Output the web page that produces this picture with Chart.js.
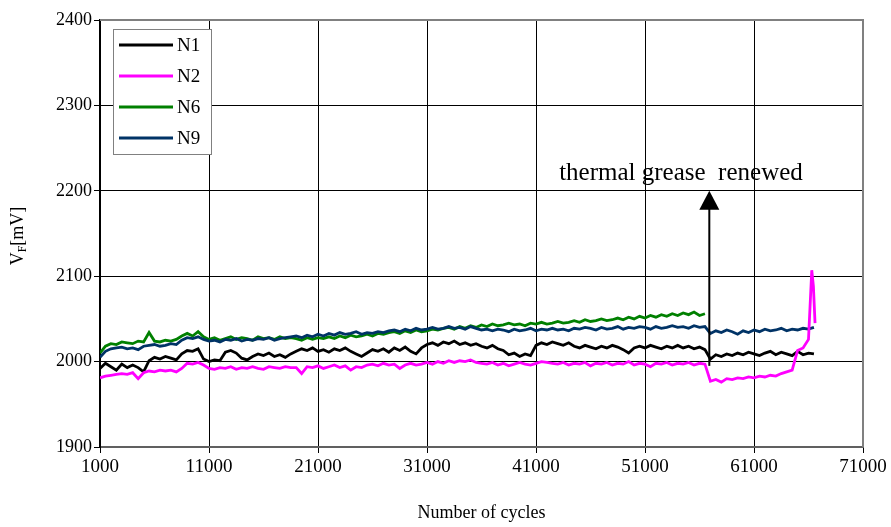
<!DOCTYPE html>
<html>
<head>
<meta charset="utf-8">
<script src="https://cdn.jsdelivr.net/npm/chart.js@4/dist/chart.umd.min.js"></script>
<style>
  html, body { margin: 0; padding: 0; background: #fff; }
  #wrap { width: 891px; height: 527px; }
</style>
</head>
<body>
<div id="wrap"><canvas id="chart" width="891" height="527"></canvas></div>
<script>
// readings every 500 cycles, starting at 1000
var cycleStart = 1000;
var cycleStep = 500;

var n1 = [
  1992, 1998, 1994, 1990, 1997, 1993, 1996, 1993, 1988, 2001,
  2005, 2003, 2006, 2004, 2002, 2009, 2013, 2012, 2015, 2003,
  2000, 2002, 2001, 2011, 2013, 2010, 2004, 2002, 2006, 2009,
  2007, 2010, 2006, 2008, 2005, 2009, 2012, 2015, 2013, 2016,
  2012, 2014, 2011, 2015, 2013, 2016, 2012, 2009, 2006, 2010,
  2014, 2012, 2015, 2011, 2016, 2013, 2017, 2012, 2009, 2016,
  2020, 2022, 2019, 2023, 2021, 2024, 2020, 2022, 2019, 2021,
  2018, 2016, 2019, 2015, 2013, 2008, 2010, 2006, 2009, 2007,
  2019, 2022, 2020, 2023, 2021, 2019, 2022, 2018, 2016, 2019,
  2017, 2015, 2018, 2016, 2019, 2017, 2014, 2010, 2016, 2018,
  2016, 2019, 2017, 2015, 2018, 2016, 2019, 2016, 2018, 2015,
  2017, 2014, 2003, 2008, 2006, 2009, 2007, 2010, 2008, 2011,
  2009, 2007, 2010, 2012, 2008, 2011, 2009, 2007, 2012, 2008,
  2010, 2009
];

var n2 = [
  1981, 1983, 1984, 1985, 1986, 1985, 1987, 1980, 1987, 1989,
  1988, 1990, 1989, 1990, 1988, 1992, 1998, 1997, 1999, 1996,
  1992, 1991, 1993, 1992, 1994, 1991, 1993, 1992, 1994, 1992,
  1991, 1994, 1993, 1992, 1994, 1993, 1993, 1986, 1994, 1993,
  1995, 1992, 1994, 1996, 1993, 1995, 1990, 1994, 1993, 1996,
  1997, 1995, 1998, 1996, 1997, 1992, 1996, 1998, 1996, 1997,
  1999, 1997, 2000, 1998, 2001, 1999, 2001, 2000, 2002, 1999,
  1998, 1997, 1999, 1996, 1998, 1995, 1997, 1999, 1997, 1996,
  1998, 2000, 1999, 1998, 1997, 1999, 1996, 1998, 1997, 1999,
  1995, 1998, 1997, 1999, 1996, 1998, 1997, 2000, 1996, 1998,
  1997, 1994, 1998, 1997, 1999, 1996, 1998, 1997, 1999, 1996,
  1998, 1997, 1977, 1979, 1976, 1980, 1979, 1981, 1980, 1982,
  1981, 1983, 1982, 1984, 1983, 1986, 1988, 1990, 2013, 2016,
  2026
];
// the jump at the very end of N2
var n2TailCycles = [66300, 66450, 66600];
var n2TailValues = [2107, 2088, 2045];

var n6 = [
  2010, 2018, 2021, 2020, 2023, 2022, 2021, 2024, 2023, 2034,
  2024, 2023, 2025, 2024, 2026, 2030, 2033, 2030, 2035, 2029,
  2026, 2028, 2025, 2027, 2029, 2026, 2028, 2027, 2025, 2029,
  2027, 2028, 2026, 2029, 2027, 2028, 2027, 2025, 2028, 2026,
  2028, 2027, 2029, 2027, 2030, 2028, 2031, 2029, 2030, 2032,
  2030, 2033, 2032, 2034, 2035, 2033, 2036, 2034, 2037, 2035,
  2036, 2038, 2037, 2039, 2040, 2038, 2041, 2039, 2042, 2040,
  2043, 2041, 2044, 2042, 2043, 2045, 2043, 2044, 2042, 2045,
  2044, 2046, 2044, 2045, 2047, 2045, 2046, 2048, 2046, 2049,
  2047, 2048, 2050, 2048, 2049, 2051, 2049, 2052, 2050, 2053,
  2051, 2054, 2052, 2055, 2053, 2056, 2054, 2057, 2055, 2058,
  2054, 2056
];

var n9 = [
  2005, 2012, 2015, 2016, 2017, 2015, 2016, 2014, 2018, 2019,
  2020, 2018, 2019, 2021, 2020, 2025, 2028, 2027, 2029, 2026,
  2024, 2025, 2023, 2026, 2025, 2027, 2024, 2026, 2025, 2027,
  2026, 2028, 2025, 2027, 2028, 2029, 2030, 2028, 2031, 2029,
  2032, 2030, 2033, 2031, 2034, 2032, 2033, 2035, 2032, 2034,
  2033, 2035, 2034, 2036, 2037, 2035, 2038, 2036, 2039, 2037,
  2038, 2040, 2038, 2039, 2041, 2039, 2040, 2038, 2041, 2039,
  2037, 2038, 2036, 2038, 2037, 2035, 2038, 2036, 2037, 2039,
  2036, 2038, 2037, 2039, 2037, 2038, 2036, 2039, 2038, 2040,
  2039, 2037, 2040, 2038, 2039, 2041, 2038, 2040, 2039, 2041,
  2040, 2038, 2041, 2039, 2040, 2042, 2040, 2041, 2039, 2042,
  2040, 2041, 2033, 2036, 2034, 2037, 2035, 2032, 2036, 2034,
  2037, 2035, 2038, 2036, 2037, 2039, 2036, 2038, 2037, 2039,
  2038, 2040
];

var xTicks = [1000, 11000, 21000, 31000, 41000, 51000, 61000, 71000];
var yTicks = [1900, 2000, 2100, 2200, 2300, 2400];

// annotation
var arrowCycle = 56900;
var arrowFrom = 1995;
var arrowTo = 2200;
var noteText = 'thermal grease  renewed';
var noteCycle = 54300;
var noteValue = 2220;

var FONT = 'Liberation Serif';

function toPoints(values) {
  return values.map(function (v, i) {
    return { x: cycleStart + i * cycleStep, y: v };
  });
}

var n2Points = toPoints(n2).concat(n2TailCycles.map(function (c, i) {
  return { x: c, y: n2TailValues[i] };
}));

function lineSet(label, points, color, order) {
  return {
    label: label,
    data: points,
    borderColor: color,
    backgroundColor: color,
    borderWidth: 2.8,
    pointRadius: 0,
    tension: 0,
    fill: false,
    order: order
  };
}

// frame, legend box, y title, arrow + note
var extras = {
  id: 'extras',
  afterDraw: function (chart) {
    var ctx = chart.ctx;
    var a = chart.chartArea;
    var xs = chart.scales.x, ys = chart.scales.y;

    ctx.save();
    ctx.strokeStyle = '#808080';
    ctx.lineWidth = 2;
    ctx.beginPath();
    ctx.moveTo(a.left, a.top);
    ctx.lineTo(a.right, a.top);
    ctx.lineTo(a.right, a.bottom);
    ctx.stroke();

    // arrow
    var ax = xs.getPixelForValue(arrowCycle);
    var y0 = ys.getPixelForValue(arrowFrom);
    var y1 = ys.getPixelForValue(arrowTo);
    ctx.strokeStyle = '#000';
    ctx.fillStyle = '#000';
    ctx.lineWidth = 2;
    ctx.beginPath();
    ctx.moveTo(ax, y0);
    ctx.lineTo(ax, y1 + 18);
    ctx.stroke();
    ctx.beginPath();
    ctx.moveTo(ax, y1);
    ctx.lineTo(ax - 10, y1 + 19);
    ctx.lineTo(ax + 10, y1 + 19);
    ctx.closePath();
    ctx.fill();

    ctx.font = '25px "' + FONT + '"';
    ctx.textAlign = 'center';
    ctx.textBaseline = 'middle';
    ctx.fillText(noteText, xs.getPixelForValue(noteCycle), ys.getPixelForValue(noteValue));

    // legend
    var lx = 113, ly = 29, lw = 98, lh = 125;
    ctx.fillStyle = '#fff';
    ctx.fillRect(lx, ly, lw, lh);
    ctx.strokeStyle = '#808080';
    ctx.lineWidth = 1;
    ctx.strokeRect(lx + 0.5, ly + 0.5, lw, lh);
    ctx.font = '19px "' + FONT + '"';
    ctx.textAlign = 'left';
    ctx.textBaseline = 'middle';
    chart.data.datasets.forEach(function (ds, i) {
      var yy = ly + 16 + i * 31;
      ctx.strokeStyle = ds.borderColor;
      ctx.lineWidth = 3;
      ctx.beginPath();
      ctx.moveTo(lx + 6, yy);
      ctx.lineTo(lx + 60, yy);
      ctx.stroke();
      ctx.fillStyle = '#000';
      ctx.fillText(ds.label, lx + 64, yy + 1);
    });

    // y title with subscript
    ctx.translate(18, 236);
    ctx.rotate(-Math.PI / 2);
    ctx.fillStyle = '#000';
    ctx.textBaseline = 'middle';
    ctx.font = '18px "' + FONT + '"';
    var wV = ctx.measureText('V').width;
    var wU = ctx.measureText('[mV]').width;
    ctx.font = '12px "' + FONT + '"';
    var wF = ctx.measureText('F').width;
    var start = -(wV + wF + wU) / 2;
    ctx.font = '18px "' + FONT + '"';
    ctx.fillText('V', start, 0);
    ctx.font = '12px "' + FONT + '"';
    ctx.fillText('F', start + wV, 5);
    ctx.font = '18px "' + FONT + '"';
    ctx.fillText('[mV]', start + wV + wF, 0);
    ctx.restore();
  }
};

new Chart(document.getElementById('chart'), {
  type: 'line',
  data: {
    datasets: [
      lineSet('N1', toPoints(n1), '#000000', 2),
      lineSet('N2', n2Points, '#ff00ff', 1),
      lineSet('N6', toPoints(n6), '#008000', 4),
      lineSet('N9', toPoints(n9), '#003366', 3)
    ]
  },
  options: {
    responsive: false,
    animation: false,
    parsing: false,
    layout: { padding: { top: 20, right: 28, left: 0, bottom: 0 } },
    plugins: {
      legend: { display: false },
      tooltip: { enabled: false }
    },
    scales: {
      x: {
        type: 'linear',
        min: 1000,
        max: 71000,
        afterBuildTicks: function (s) { s.ticks = xTicks.map(function (v) { return { value: v }; }); },
        afterFit: function (s) { s.height = 80; },
        grid: { color: '#000', lineWidth: 1, tickLength: 6 },
        border: { color: '#606060', width: 2 },
        ticks: {
          color: '#000',
          padding: 3,
          maxRotation: 0,
          font: { family: FONT, size: 19 },
          callback: function (v) { return String(v); }
        },
        title: {
          display: true,
          text: 'Number of cycles',
          color: '#000',
          font: { family: FONT, size: 18 },
          padding: { top: 4, bottom: 3 }
        }
      },
      y: {
        min: 1900,
        max: 2400,
        afterBuildTicks: function (s) { s.ticks = yTicks.map(function (v) { return { value: v }; }); },
        afterFit: function (s) { s.width = 100; },
        grid: { color: '#000', lineWidth: 1, tickLength: 6 },
        border: { color: '#000', width: 2 },
        ticks: {
          color: '#000',
          padding: 2,
          font: { family: FONT, size: 18 },
          callback: function (v) { return String(v); }
        }
      }
    }
  },
  plugins: [extras]
});
</script>
</body>
</html>
